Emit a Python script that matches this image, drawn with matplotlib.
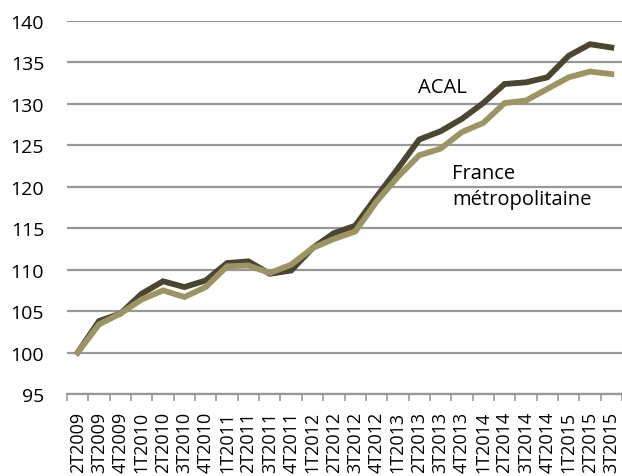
import matplotlib
matplotlib.use("Agg")
import matplotlib.pyplot as plt
import numpy as np

quarters = ["2T2009", "3T2009", "4T2009", "1T2010", "2T2010", "3T2010", "4T2010",
            "1T2011", "2T2011", "3T2011", "4T2011", "1T2012", "2T2012", "3T2012",
            "4T2012", "1T2013", "2T2013", "3T2013", "4T2013", "1T2014", "2T2014",
            "3T2014", "4T2014", "1T2015", "2T2015", "3T2015"]
acal = [100.0, 103.8, 104.7, 107.1, 108.6, 107.9, 108.7, 110.8, 111.0, 109.5,
        109.9, 112.6, 114.4, 115.3, 118.8, 122.2, 125.7, 126.7, 128.2, 130.1,
        132.4, 132.6, 133.2, 135.8, 137.2, 136.8]
france = [100.0, 103.4, 104.7, 106.4, 107.5, 106.7, 107.9, 110.4, 110.5, 109.6,
          110.6, 112.6, 113.7, 114.6, 118.2, 121.2, 123.8, 124.6, 126.6, 127.7,
          130.1, 130.4, 131.8, 133.2, 133.9, 133.6]
yticks = [95, 100, 105, 110, 115, 120, 125, 130, 135, 140]

plt.rcParams['font.family'] = ['Open Sans', 'DejaVu Sans']

fig = plt.figure(figsize=(6.22, 4.77), dpi=100)
ax = fig.add_axes([67/622, 82/477, 555/622, 373/477])

x = np.arange(len(quarters))
ax.plot(x, acal, color="#4b4630", lw=4.2, solid_joinstyle='miter', zorder=3)
ax.plot(x, france, color="#9c9563", lw=4.2, solid_joinstyle='miter', zorder=4)

ax.set_xlim(-0.5, len(quarters) - 0.5)
ax.set_ylim(95, 140)
ax.set_yticks(yticks)
ax.set_yticklabels([str(v) for v in yticks], fontsize=14)
ax.tick_params(axis='y', length=0, pad=16.5)
ax.yaxis.grid(True, color="#989898", lw=1.6)
ax.set_axisbelow(True)

ax.set_xticks(x)
ax.set_xticklabels(quarters, rotation=90, fontsize=13)
ax.tick_params(axis='x', which='major', length=0, pad=12)
ax.set_xticks(np.arange(-0.5, len(quarters), 1.0), minor=True)
ax.tick_params(axis='x', which='minor', length=5, color="#989898", width=1.2)

for s in ['left', 'right', 'top']:
    ax.spines[s].set_visible(False)
ax.spines['bottom'].set_color("#989898")
ax.spines['bottom'].set_linewidth(1.6)

ax.text(15.94, 132.0, "ACAL", fontsize=14.5, ha='left', va='center', color='black')
ax.text(17.53, 120.1, "France\nmétropolitaine", fontsize=14.5, ha='left', va='center',
        color='black', linespacing=1.35)

fig.savefig("out.png", dpi=100)
